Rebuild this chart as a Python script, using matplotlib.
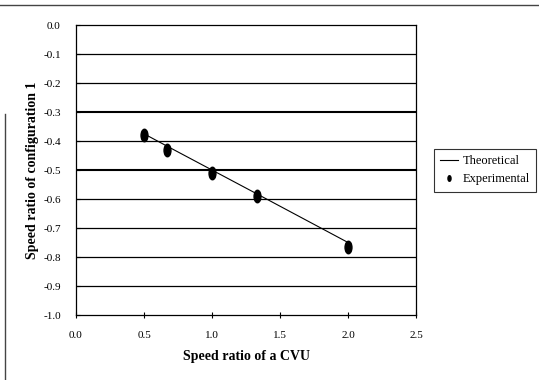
import matplotlib
matplotlib.use("Agg")
import matplotlib.pyplot as plt
from matplotlib.path import Path
from matplotlib.lines import Line2D
import numpy as np

plt.rcParams["font.family"] = ["Liberation Serif", "DejaVu Serif"]

# ── data ──────────────────────────────────────────────────────────────
cvu_ratio      = [0.5, 0.667, 1.0, 1.333, 2.0]
theoretical    = [-0.375, -0.417, -0.5, -0.583, -0.75]
experimental   = [-0.38, -0.43, -0.51, -0.59, -0.765]
x_ticks        = [0.0, 0.5, 1.0, 1.5, 2.0, 2.5]
y_ticks        = [0.0, -0.1, -0.2, -0.3, -0.4, -0.5, -0.6, -0.7, -0.8, -0.9, -1.0]

# tall oval marker like the scanned dots
circ = Path.unit_circle()
oval = Path(circ.vertices * np.array([0.55, 1.0]), circ.codes)

fig = plt.figure(figsize=(5.39, 3.80), dpi=100)
ax = fig.add_axes([0.141, 0.171, 0.631, 0.763])

# gridlines (scan makes some look heavier than others)
for yv in y_ticks[1:-1]:
    lw = 1.5 if yv in (-0.3, -0.5) else 0.9
    ax.axhline(yv, color="black", linewidth=lw, zorder=1)

ax.plot(cvu_ratio, theoretical, "-", color="black", linewidth=0.8, zorder=3)
ax.plot(cvu_ratio, experimental, linestyle="none", marker=oval,
        markersize=9, color="black", zorder=4)

ax.set_xlim(0, 2.5)
ax.set_ylim(-1.0, 0.0)
ax.set_xticks(x_ticks)
ax.set_yticks(y_ticks)
ax.set_xticklabels([f"{v:.1f}" for v in x_ticks], fontsize=8)
ax.set_yticklabels([f"{v:.1f}" for v in y_ticks], fontsize=8)
ax.tick_params(axis="x", direction="inout", length=5, width=0.8, pad=9)
ax.tick_params(axis="y", direction="in", length=3, width=0.8, pad=11)
for s in ax.spines.values():
    s.set_linewidth(0.9)

ax.set_xlabel("Speed ratio of a CVU", fontsize=10, fontweight="bold", labelpad=7)
ax.set_ylabel("Speed ratio of configuration 1", fontsize=10, fontweight="bold",
              labelpad=3)

handles = [
    Line2D([], [], color="black", linewidth=0.8),
    Line2D([], [], linestyle="none", marker=oval, markersize=4, color="black"),
]
leg = fig.legend(handles, ["Theoretical", "Experimental"],
                 loc="upper left", bbox_to_anchor=(0.805, 0.608),
                 fontsize=9, frameon=True, fancybox=False,
                 edgecolor="black", handlelength=1.4, handletextpad=0.4,
                 borderpad=0.5, labelspacing=0.5, borderaxespad=0)
leg.get_frame().set_linewidth(0.8)

# scanned figure border (top and left)
fig.add_artist(Line2D([0.0, 1.0], [0.988, 0.988], color="#444444",
                      linewidth=1.0, transform=fig.transFigure))
fig.add_artist(Line2D([0.009, 0.009], [0.0, 0.70], color="#444444",
                      linewidth=1.0, transform=fig.transFigure))

fig.savefig("out.png", dpi=100, facecolor="white")
